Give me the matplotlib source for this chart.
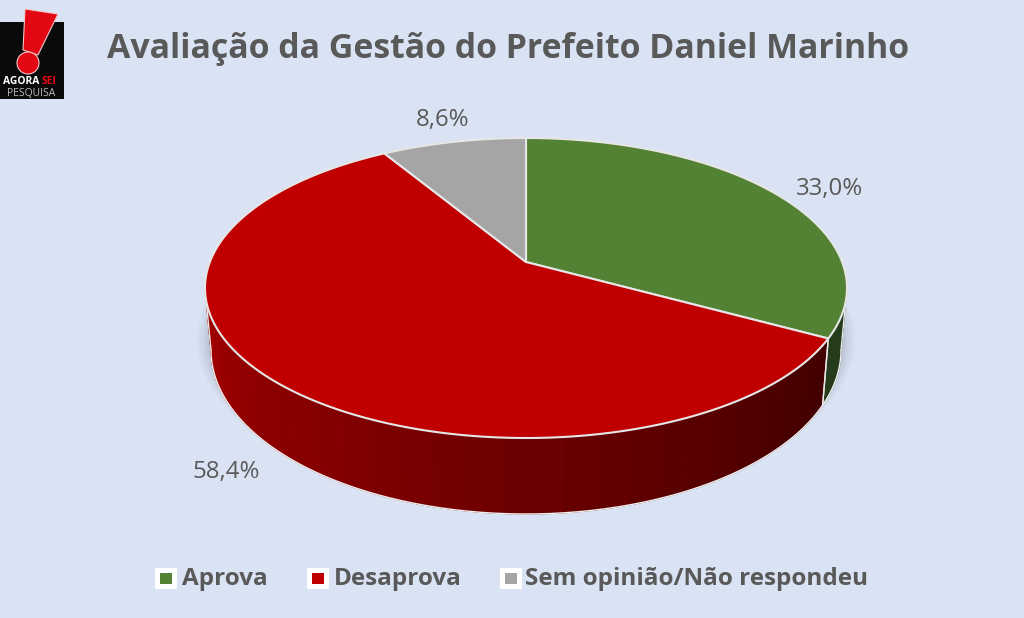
import numpy as np
import matplotlib
matplotlib.use("Agg")
import matplotlib.pyplot as plt
from matplotlib.patches import Polygon, Circle, Rectangle

categories = ["Aprova", "Desaprova", "Sem opinião/Não respondeu"]
values = [33.0, 58.4, 8.6]
value_labels = ["33,0%", "58,4%", "8,6%"]
top_colors = ["#548235", "#C00000", "#A5A5A5"]
wall_light = [(0.16, 0.26, 0.12), (0.68, 0.0, 0.0), (0.5, 0.5, 0.5)]
wall_dark = [(0.13, 0.21, 0.10), (0.26, 0.0, 0.0), (0.3, 0.3, 0.3)]
title = "Avaliação da Gestão do Prefeito Daniel Marinho"
BG = "#DAE3F3"
TXT = "#595959"

fig = plt.figure(figsize=(10.24, 6.18), dpi=100, facecolor=BG)
ax = fig.add_axes([0, 0, 1, 1])
ax.set_xlim(0, 1024)
ax.set_ylim(618, 0)
ax.axis("off")

CX, CY, RX, RY = 526, 288, 321, 150
BX, BY, BRX, BRY = 526, 350, 315, 164
A = 26 / 150

def project(theta, cy=CY, rx=RX, ry=RY):
    u, v = np.sin(theta), np.cos(theta)
    d = 1 + A * v
    return CX + rx * u * np.sqrt(1 - A**2) / d, cy - ry * (v + A) / d

edges = np.radians(np.concatenate([[0], np.cumsum(values)]) * 3.6)
# angles at which the rim is at its widest on screen
FLANK_R = np.arccos(-A)
FLANK_L = 2 * np.pi - FLANK_R

# soft shadow behind the wall flanks
t = np.linspace(0, 2 * np.pi, 240)
for k, alpha in zip([14, 11, 8, 5, 2], [0.04, 0.05, 0.07, 0.09, 0.11]):
    x, y = project(t, BY - 10, BRX + k, BRY)
    ax.add_patch(Polygon(np.c_[x, y], fc="#6F7785", ec="none", alpha=alpha, zorder=1))

# side walls
for i in range(len(values)):
    lo = max(edges[i], FLANK_R)
    hi = min(edges[i + 1], FLANK_L)
    if hi <= lo:
        continue
    n = max(2, int(np.degrees(hi - lo) / 5))
    ts = np.linspace(lo, hi, n + 1)
    for j in range(n):
        seg = np.linspace(ts[j], ts[j + 1], 6)
        xt, yt = project(seg)
        xb, yb = project(seg, BY, BRX, BRY)
        f = (np.degrees(ts[j]) - 119) / 151 if i == 1 else 0.5
        f = np.clip(f, 0, 1)
        col = tuple(a + (b - a) * f for a, b in zip(wall_dark[i], wall_light[i]))
        ax.add_patch(Polygon(np.c_[np.r_[xt, xb[::-1]], np.r_[yt, yb[::-1]]],
                             fc=col, ec=col, lw=0.8, zorder=2))
    seg = np.linspace(lo, hi, 200)
    xb, yb = project(seg, BY, BRX, BRY)
    ax.plot(xb, yb, color="#F0F0F0", lw=1.0, zorder=3)
    for t0 in (lo, hi):
        x0, y0 = project(t0)
        x1, y1 = project(t0, BY, BRX, BRY)
        ax.plot([x0, x1], [y0, y1], color="#E8E8E8", lw=1.0, zorder=3)

# top slices
for i in range(len(values)):
    seg = np.linspace(edges[i], edges[i + 1], 300)
    x, y = project(seg)
    ax.add_patch(Polygon(np.c_[np.r_[CX, x], np.r_[CY - 26, y]],
                         fc=top_colors[i], ec="#E6E6E6", lw=1.5, joinstyle="round", zorder=4))

# value labels
for s, (lx, ly) in zip(value_labels, [(830, 189), (226, 472), (443, 120)]):
    ax.text(lx, ly, s, ha="center", va="center", fontsize=17.3, color=TXT,
            family="Open Sans", zorder=6)

# title
ax.text(508, 58, title, ha="center", va="baseline", fontsize=24.4, fontweight="bold",
        color=TXT, family="Open Sans", zorder=6)

# legend
for name, col, bx, tx in zip(categories, top_colors, [166, 318, 511], [182, 334, 525]):
    ax.add_patch(Rectangle((bx - 11, 568), 22, 21, fc="white", ec="none", zorder=5))
    ax.add_patch(Rectangle((bx - 6, 573), 12, 11, fc=col, ec="none", zorder=6))
    ax.text(tx, 579, name, ha="left", va="center", fontsize=17.5, fontweight="bold",
            color=TXT, family="Open Sans", zorder=6)

# logo
ax.add_patch(Rectangle((0, 22), 64, 77, fc="#0A0A0A", ec="none", zorder=5))
ax.add_patch(Polygon([(25, 9), (58, 14), (38, 55), (23, 50)], fc="#E30613", ec="#F0C8C8", lw=0.8, zorder=6))
ax.add_patch(Circle((28, 63), 11, fc="#E30613", ec="#F0C8C8", lw=0.8, zorder=6))
ax.text(3, 82, "AGORA", ha="left", va="center", fontsize=7.4, fontweight="bold", color="white",
        family="Open Sans", zorder=6)
ax.text(42, 82, "SEI", ha="left", va="center", fontsize=7.4, fontweight="bold", color="#E30613",
        family="Open Sans", zorder=6)
ax.text(31, 93, "PESQUISA", ha="center", va="center", fontsize=7.5, color="#BBBBBB",
        family="Open Sans", zorder=6)

fig.savefig("out.png", dpi=100, facecolor=BG)
